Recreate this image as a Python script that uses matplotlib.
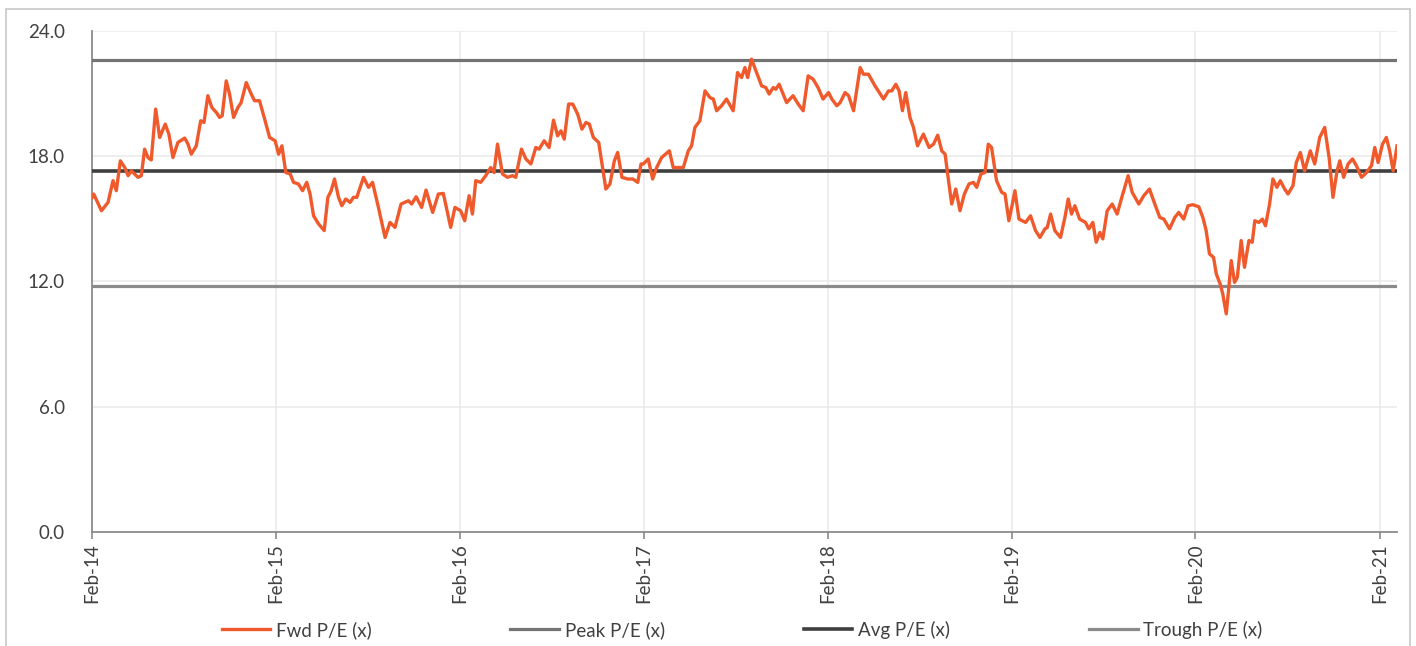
import matplotlib
matplotlib.use('Agg')
import matplotlib.pyplot as plt
import matplotlib.dates as mdates
import matplotlib.patches as mpatches
from datetime import datetime

plt.rcParams['font.family'] = ['Lato', 'DejaVu Sans']

# Forward P/E series, dates as decimal years
dates_yr = [
    2014.085, 2014.094, 2014.136, 2014.172, 2014.199, 2014.217, 2014.239, 2014.263, 2014.281, 2014.299,
    2014.335, 2014.353, 2014.371, 2014.389, 2014.407, 2014.431, 2014.453, 2014.483, 2014.503, 2014.525,
    2014.552, 2014.589, 2014.607, 2014.625, 2014.652, 2014.676, 2014.694, 2014.715, 2014.737, 2014.761,
    2014.779, 2014.793, 2014.815, 2014.833, 2014.855, 2014.878, 2014.896, 2014.924, 2014.951, 2014.969,
    2014.996, 2015.024, 2015.051, 2015.081, 2015.100, 2015.118, 2015.139, 2015.163, 2015.181, 2015.208,
    2015.230, 2015.253, 2015.271, 2015.290, 2015.317, 2015.348, 2015.368, 2015.386, 2015.404, 2015.426,
    2015.444, 2015.465, 2015.489, 2015.507, 2015.525, 2015.562, 2015.589, 2015.611, 2015.643, 2015.679,
    2015.706, 2015.733, 2015.766, 2015.806, 2015.824, 2015.848, 2015.878, 2015.902, 2015.938, 2015.969,
    2015.996, 2016.036, 2016.059, 2016.090, 2016.112, 2016.136, 2016.154, 2016.172, 2016.199, 2016.226,
    2016.253, 2016.271, 2016.290, 2016.317, 2016.344, 2016.371, 2016.389, 2016.420, 2016.444, 2016.471,
    2016.498, 2016.516, 2016.543, 2016.570, 2016.594, 2016.616, 2016.634, 2016.652, 2016.676, 2016.698,
    2016.725, 2016.748, 2016.770, 2016.788, 2016.810, 2016.839, 2016.857, 2016.878, 2016.900, 2016.924,
    2016.942, 2016.965, 2016.996, 2017.024, 2017.051, 2017.069, 2017.081, 2017.108, 2017.132, 2017.154,
    2017.181, 2017.223, 2017.244, 2017.271, 2017.299, 2017.326, 2017.344, 2017.362, 2017.389, 2017.417,
    2017.444, 2017.462, 2017.480, 2017.507, 2017.534, 2017.570, 2017.594, 2017.616, 2017.634, 2017.649,
    2017.670, 2017.694, 2017.725, 2017.748, 2017.766, 2017.788, 2017.802, 2017.820, 2017.861, 2017.896,
    2017.924, 2017.951, 2017.978, 2018.005, 2018.032, 2018.059, 2018.089, 2018.107, 2018.134, 2018.152,
    2018.179, 2018.198, 2018.225, 2018.261, 2018.279, 2018.306, 2018.342, 2018.388, 2018.415, 2018.433,
    2018.455, 2018.473, 2018.491, 2018.509, 2018.532, 2018.551, 2018.573, 2018.605, 2018.636, 2018.660,
    2018.683, 2018.705, 2018.723, 2018.737, 2018.759, 2018.781, 2018.804, 2018.828, 2018.853, 2018.877,
    2018.895, 2018.918, 2018.940, 2018.958, 2018.976, 2019.003, 2019.031, 2019.049, 2019.070, 2019.089,
    2019.103, 2019.125, 2019.161, 2019.188, 2019.215, 2019.239, 2019.266, 2019.279, 2019.297, 2019.320,
    2019.351, 2019.375, 2019.393, 2019.411, 2019.429, 2019.455, 2019.487, 2019.505, 2019.527, 2019.545,
    2019.565, 2019.581, 2019.605, 2019.632, 2019.659, 2019.687, 2019.719, 2019.741, 2019.777, 2019.804,
    2019.835, 2019.864, 2019.891, 2019.913, 2019.944, 2019.973, 2019.994, 2020.021, 2020.045, 2020.070,
    2020.103, 2020.125, 2020.143, 2020.161, 2020.183, 2020.198, 2020.219, 2020.233, 2020.252, 2020.266,
    2020.279, 2020.297, 2020.312, 2020.333, 2020.351, 2020.375, 2020.393, 2020.407, 2020.429, 2020.448,
    2020.465, 2020.487, 2020.505, 2020.527, 2020.545, 2020.569, 2020.587, 2020.614, 2020.632, 2020.654,
    2020.677, 2020.708, 2020.732, 2020.759, 2020.786, 2020.810, 2020.831, 2020.853, 2020.868, 2020.889,
    2020.913, 2020.937, 2020.958, 2020.986, 2021.013, 2021.040, 2021.058, 2021.076, 2021.100, 2021.121,
    2021.139, 2021.158, 2021.179,
]
fwd_pe = [
    16.03, 16.19, 15.39, 15.79, 16.83, 16.35, 17.78, 17.46, 17.07, 17.30,
    16.99, 17.07, 18.34, 17.94, 17.82, 20.26, 18.90, 19.54, 19.06, 17.94,
    18.66, 18.87, 18.58, 18.10, 18.50, 19.70, 19.62, 20.90, 20.33, 20.10,
    19.86, 19.94, 21.61, 20.98, 19.86, 20.33, 20.57, 21.53, 20.98, 20.66,
    20.66, 19.78, 18.90, 18.74, 18.10, 18.50, 17.22, 17.15, 16.75, 16.67,
    16.35, 16.75, 16.19, 15.15, 14.76, 14.44, 16.03, 16.35, 16.91, 16.03,
    15.63, 15.95, 15.79, 16.03, 16.03, 16.99, 16.51, 16.75, 15.55, 14.11,
    14.83, 14.59, 15.71, 15.87, 15.71, 16.06, 15.55, 16.38, 15.31, 16.19,
    16.22, 14.59, 15.55, 15.39, 14.91, 16.11, 15.23, 16.83, 16.75, 17.07,
    17.46, 17.22, 18.58, 17.15, 16.99, 17.07, 16.99, 18.34, 17.87, 17.63,
    18.42, 18.34, 18.74, 18.42, 19.73, 18.98, 19.22, 18.82, 20.50, 20.50,
    20.02, 19.30, 19.62, 19.54, 18.90, 18.66, 17.63, 16.43, 16.67, 17.78,
    18.18, 16.99, 16.91, 16.91, 16.75, 17.63, 17.63, 17.87, 16.91, 17.46,
    17.94, 18.26, 17.46, 17.46, 17.46, 18.26, 18.50, 19.38, 19.70, 21.13,
    20.81, 20.74, 20.18, 20.42, 20.74, 20.18, 22.01, 21.77, 22.25, 21.77,
    22.65, 22.09, 21.37, 21.29, 20.98, 21.29, 21.21, 21.45, 20.57, 20.90,
    20.50, 20.18, 21.85, 21.69, 21.29, 20.74, 21.05, 20.74, 20.42, 20.57,
    21.05, 20.90, 20.18, 22.25, 21.93, 21.93, 21.37, 20.74, 21.13, 21.13,
    21.45, 21.13, 20.18, 21.05, 19.86, 19.38, 18.50, 19.06, 18.42, 18.58,
    19.01, 18.26, 18.10, 17.15, 15.71, 16.43, 15.39, 16.19, 16.67, 16.75,
    16.51, 17.15, 17.22, 18.58, 18.42, 16.83, 16.27, 16.19, 14.91, 15.71,
    16.35, 14.99, 14.83, 15.15, 14.44, 14.11, 14.52, 14.59, 15.23, 14.44,
    14.11, 15.07, 15.95, 15.23, 15.63, 14.99, 14.83, 14.52, 14.83, 13.88,
    14.35, 14.04, 15.39, 15.71, 15.23, 16.11, 17.07, 16.27, 15.71, 16.11,
    16.43, 15.71, 15.07, 14.99, 14.52, 15.07, 15.31, 14.99, 15.63, 15.68,
    15.58, 15.07, 14.44, 13.32, 13.16, 12.36, 11.88, 11.41, 10.45, 11.72,
    13.00, 11.96, 12.20, 13.96, 12.68, 13.96, 13.88, 14.91, 14.83, 14.99,
    14.67, 15.71, 16.91, 16.51, 16.83, 16.43, 16.19, 16.59, 17.70, 18.18,
    17.30, 18.26, 17.63, 18.90, 19.38, 17.94, 16.03, 17.30, 17.78, 16.99,
    17.63, 17.87, 17.55, 16.99, 17.22, 17.55, 18.42, 17.70, 18.58, 18.90,
    18.26, 17.30, 18.50,
]
peak_pe = 22.6
avg_pe = 17.3
trough_pe = 11.8

series_labels = ['Fwd P/E (x)', 'Peak P/E (x)', 'Avg P/E (x)', 'Trough P/E (x)']
y_ticks = [0, 6, 12, 18, 24]
tick_years = list(range(2014, 2022))


def yr_to_date(y):
    year = int(y)
    start = datetime(year, 1, 1)
    return start + (datetime(year + 1, 1, 1) - start) * (y - year)


dates = [yr_to_date(y) for y in dates_yr]

fig = plt.figure(figsize=(14.16, 6.46), dpi=100)
ax = fig.add_axes([0.065, 0.1765, 0.9216, 0.7755])

orange = '#F0592B'
peak_c = '#747474'
avg_c = '#3F3F3F'
trough_c = '#8A8A8A'

ax.plot(dates, fwd_pe, color=orange, lw=2.4, solid_joinstyle='round', zorder=5, label=series_labels[0])
ax.axhline(peak_pe, color=peak_c, lw=2.3, zorder=3, label=series_labels[1])
ax.axhline(avg_pe, color=avg_c, lw=2.6, zorder=3, label=series_labels[2])
ax.axhline(trough_pe, color=trough_c, lw=2.3, zorder=3, label=series_labels[3])

ax.set_xlim(dates[0], dates[-1])
ax.set_ylim(0, 24)
ax.set_yticks(y_ticks)
ax.set_yticklabels([f'{v:.1f}' for v in y_ticks])
ax.set_xticks([datetime(y, 2, 1) for y in tick_years])
ax.xaxis.set_major_formatter(mdates.DateFormatter('%b-%y'))
plt.setp(ax.get_xticklabels(), rotation=90)

ax.grid(True, color='#EBEBEB', lw=1.2, zorder=0)
ax.set_axisbelow(True)
for s in ['top', 'right']:
    ax.spines[s].set_visible(False)
for s in ['left', 'bottom']:
    ax.spines[s].set_color('#8C8C8C')
    ax.spines[s].set_linewidth(1.3)
ax.tick_params(axis='y', length=0, pad=19.5, labelsize=13.5, labelcolor='#404040')
ax.tick_params(axis='x', length=5, width=1.2, color='#8C8C8C', pad=3, labelsize=13.5, labelcolor='#404040')

fig.legend(loc='center', bbox_to_anchor=(0.524, 0.025), ncol=4, frameon=False,
           fontsize=13.5, handlelength=2.6, handletextpad=0.3, columnspacing=7.4,
           labelcolor='#404040')

# chart border
fig.patches.append(mpatches.Rectangle((6 / 1416, -0.1), 1404 / 1416, 1.086, transform=fig.transFigure,
                                      fill=False, edgecolor='#C8C8C8', lw=1.2))

plt.savefig('out.png', dpi=100, facecolor='white')
plt.close()
